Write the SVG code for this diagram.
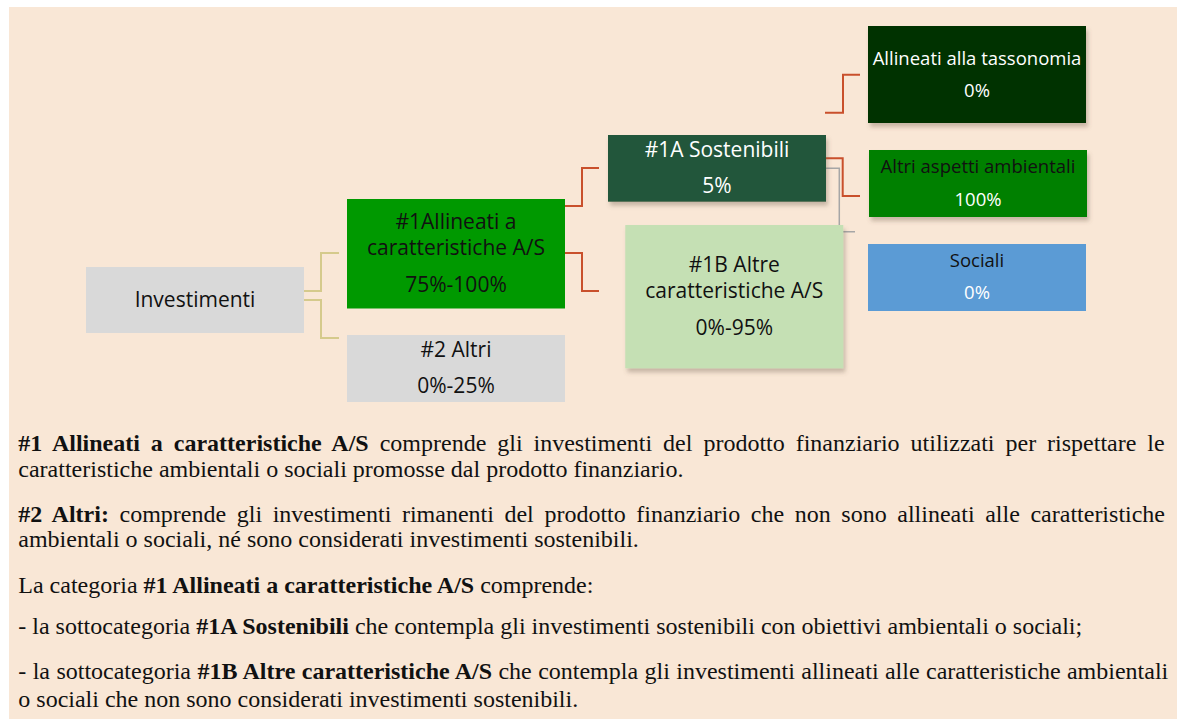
<svg xmlns="http://www.w3.org/2000/svg" width="1177" height="722" viewBox="0 0 1177 722">
<style>
.n{font-family:"Open Sans","Liberation Sans",sans-serif;font-size:21px;text-anchor:middle;fill:#111}
.s{font-family:"Open Sans","Liberation Sans",sans-serif;font-size:18.5px;text-anchor:middle}
.w{fill:#fff}
.k{fill:#111}
.p{font-family:"Liberation Serif","Times New Roman",serif;font-size:24px;fill:#111}
.b{font-weight:bold}
.c{fill:none;stroke-width:2}
.red{stroke:#C9502C}
.tan{stroke:#D5CA8C}
.gry{stroke:#A6A6A6;stroke-width:1.5}
</style>
<defs>
<filter id="sh" x="-10%" y="-10%" width="125%" height="135%">
<feDropShadow dx="2" dy="4" stdDeviation="2" flood-color="#6b5a4a" flood-opacity="0.35"/>
</filter>
</defs>
<rect x="0" y="0" width="1177" height="722" fill="#fff"/>
<rect x="9" y="7" width="1168" height="712" fill="#F9E7D6"/>

<g id="connectors">
<path class="c tan" d="M304 291 H321 V253 H339"/>
<path class="c tan" d="M304 300 H321 V338 H339"/>
<path class="c red" d="M565 206 H582 V168 H599"/>
<path class="c red" d="M565 253 H582 V291 H599"/>
<path class="c red" d="M825 112.7 H843 V74.7 H860"/>
<path class="c red" d="M826 158.3 H842.7 V196 H860"/>
<path class="c gry" d="M826 168.3 H839.3 V231.7 H855"/>
</g>

<g id="investimenti">
<rect x="86" y="267" width="218" height="66" fill="#D9D9D9"/>
<text class="n" x="195" y="307">Investimenti</text>
</g>

<g id="allineati">
<rect x="347" y="199" width="218" height="109.5" fill="#009900"/>
<text class="n" x="456" y="229">#1Allineati a</text>
<text class="n" x="456" y="255">caratteristiche A/S</text>
<text class="n" x="456" y="291.7">75%-100%</text>
</g>

<g id="altri">
<rect x="347" y="335" width="218" height="67" fill="#D9D9D9"/>
<text class="n" x="456" y="356.7">#2 Altri</text>
<text class="n" x="456" y="393.3">0%-25%</text>
</g>

<g id="sostenibili">
<rect x="608" y="135" width="218" height="66.7" fill="#24573A" filter="url(#sh)"/>
<text class="n w" x="717" y="157.3">#1A Sostenibili</text>
<text class="n w" x="717" y="193.3">5%</text>
</g>

<g id="altre">
<rect x="625.3" y="225" width="218" height="143.3" fill="#C5E0B4" filter="url(#sh)"/>
<text class="n" x="734.3" y="272.3">#1B Altre</text>
<text class="n" x="734.3" y="298.3">caratteristiche A/S</text>
<text class="n" x="734.3" y="335">0%-95%</text>
</g>

<g id="tassonomia">
<rect x="868" y="26" width="218" height="97" fill="#013300" filter="url(#sh)"/>
<text class="s w" x="977" y="65">Allineati alla tassonomia</text>
<text class="s w" x="977" y="96.7">0%</text>
</g>

<g id="ambientali">
<rect x="869" y="150" width="218" height="67" fill="#008000" filter="url(#sh)"/>
<text class="s k" x="978" y="173.3">Altri aspetti ambientali</text>
<text class="s w" x="978" y="205.7">100%</text>
</g>

<g id="sociali">
<rect x="868" y="244" width="218" height="67" fill="#5B9BD5"/>
<text class="s k" x="977" y="267.3">Sociali</text>
<text class="s w" x="977" y="299">0%</text>
</g>

<g id="notes">
<text class="p" x="18.3" y="451" word-spacing="4.95"><tspan class="b">#1 Allineati a caratteristiche A/S</tspan> comprende gli investimenti del prodotto finanziario utilizzati per rispettare le</text>
<text class="p" x="18.3" y="477">caratteristiche ambientali o sociali promosse dal prodotto finanziario.</text>
<text class="p" x="18.3" y="521.5" word-spacing="4.6"><tspan class="b">#2 Altri:</tspan> comprende gli investimenti rimanenti del prodotto finanziario che non sono allineati alle caratteristiche</text>
<text class="p" x="18.3" y="547">ambientali o sociali, né sono considerati investimenti sostenibili.</text>
<text class="p" x="18.3" y="592.5">La categoria <tspan class="b">#1 Allineati a caratteristiche A/S</tspan> comprende:</text>
<text class="p" x="18.3" y="634">- la sottocategoria <tspan class="b">#1A Sostenibili</tspan> che contempla gli investimenti sostenibili con obiettivi ambientali o sociali;</text>
<text class="p" x="18.3" y="679.3" word-spacing="0.39">- la sottocategoria <tspan class="b">#1B Altre caratteristiche A/S</tspan> che contempla gli investimenti allineati alle caratteristiche ambientali</text>
<text class="p" x="18.3" y="706.7">o sociali che non sono considerati investimenti sostenibili.</text>
</g>
</svg>
